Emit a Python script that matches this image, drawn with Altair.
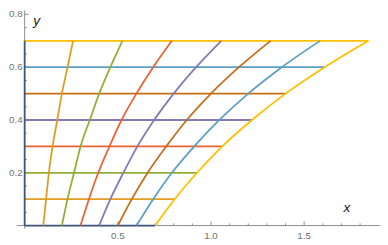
import altair as alt
import pandas as pd

# ---- data ----
y_levels = [0.0, 0.1, 0.2, 0.3, 0.4, 0.5, 0.6, 0.7]
curve_00 = [0.0, 0.0, 0.0, 0.0, 0.0, 0.0, 0.0, 0.0]
curve_01 = [0.10, 0.115, 0.13, 0.15, 0.175, 0.20, 0.23, 0.26]
curve_02 = [0.20, 0.23, 0.265, 0.30, 0.35, 0.40, 0.46, 0.525]
curve_03 = [0.30, 0.345, 0.395, 0.455, 0.52, 0.60, 0.69, 0.79]
curve_04 = [0.40, 0.46, 0.53, 0.605, 0.695, 0.80, 0.92, 1.055]
curve_05 = [0.50, 0.575, 0.66, 0.76, 0.87, 1.00, 1.15, 1.32]
curve_06 = [0.60, 0.69, 0.79, 0.91, 1.045, 1.20, 1.38, 1.585]
curve_07 = [0.70, 0.805, 0.925, 1.06, 1.22, 1.40, 1.61, 1.845]
curves = [curve_00, curve_01, curve_02, curve_03, curve_04, curve_05, curve_06, curve_07]
series_names = ["c0", "c1", "c2", "c3", "c4", "c5", "c6", "c7"]
series_colors = ["#3F5479", "#E19C24", "#8FB032", "#EB6235", "#8778B3",
                 "#C56E1A", "#5D9EC7", "#FFBF00"]

x_tick_labels = [0.5, 1.0, 1.5]
x_minor_ticks = [0.1, 0.2, 0.3, 0.4, 0.6, 0.7, 0.8, 0.9, 1.1, 1.2, 1.3, 1.4,
                 1.6, 1.7, 1.8]
y_tick_labels = [0.2, 0.4, 0.6, 0.8]
y_minor_ticks = [0.05, 0.1, 0.15, 0.25, 0.3, 0.35, 0.45, 0.5, 0.55, 0.65,
                 0.7, 0.75]

# ---- tables ----
curve_rows = []
for name, xs in zip(series_names, curves):
    for i, (xv, yv) in enumerate(zip(xs, y_levels)):
        curve_rows.append({"s": name, "x": xv, "y": yv, "i": i})
curve_df = pd.DataFrame(curve_rows)

hline_df = pd.DataFrame({
    "s": series_names,
    "y": y_levels,
    "x0": [0.0] * len(y_levels),
    "x1": curve_07,
})

W, H = 380, 237
X0PX = 17.0          # pixel of x = 0 inside the svg
XS = 190.35          # pixels per x unit
XD = [-X0PX / XS, (W - X0PX) / XS]
YD = [-0.0642, 0.8149]
xs_ = alt.Scale(domain=XD, nice=False, zero=False)
ys_ = alt.Scale(domain=YD, nice=False, zero=False)
col = alt.Color("s:N", scale=alt.Scale(domain=series_names, range=series_colors), legend=None)

AX = "#8c8c8c"
LBL = "#707070"
FONT = "Liberation Sans"


def ticks_df(vals):
    return pd.DataFrame({"t": vals, "z": [0.0] * len(vals)})


# axes lines
x_axis = alt.Chart(pd.DataFrame({"a": [-8.0 / XS], "b": [XD[1]], "y": [0.0]})).mark_rule(
    color=AX, strokeWidth=1).encode(
    x=alt.X("a:Q", scale=xs_, axis=None), x2="b:Q", y=alt.Y("y:Q", scale=ys_, axis=None))
y_axis = alt.Chart(pd.DataFrame({"a": [-0.012], "b": [YD[1]], "x": [0.0]})).mark_rule(
    color=AX, strokeWidth=1).encode(
    y=alt.Y("a:Q", scale=ys_, axis=None), y2="b:Q", x=alt.X("x:Q", scale=xs_, axis=None))

# ticks
xt_major = alt.Chart(ticks_df(x_tick_labels)).mark_rule(color=AX).encode(
    x=alt.X("t:Q", scale=xs_, axis=None), y=alt.Y("z:Q", scale=ys_, axis=None),
    y2=alt.value(215.5))
xt_minor = alt.Chart(ticks_df(x_minor_ticks)).mark_rule(color=AX).encode(
    x=alt.X("t:Q", scale=xs_, axis=None), y=alt.Y("z:Q", scale=ys_, axis=None),
    y2=alt.value(217.5))
yt_major = alt.Chart(ticks_df(y_tick_labels)).mark_rule(color=AX).encode(
    y=alt.Y("t:Q", scale=ys_, axis=None), x=alt.X("z:Q", scale=xs_, axis=None),
    x2=alt.value(X0PX + 4))
yt_minor = alt.Chart(ticks_df(y_minor_ticks)).mark_rule(color=AX).encode(
    y=alt.Y("t:Q", scale=ys_, axis=None), x=alt.X("z:Q", scale=xs_, axis=None),
    x2=alt.value(X0PX + 2.5))

# tick labels
x_lbl = alt.Chart(ticks_df(x_tick_labels)).mark_text(
    font=FONT, fontSize=10, color=LBL, align="center", baseline="middle").encode(
    x=alt.X("t:Q", scale=xs_, axis=None), y=alt.value(230),
    text=alt.Text("t:Q", format=".1f"))
y_lbl = alt.Chart(ticks_df(y_tick_labels)).mark_text(
    font=FONT, fontSize=10, color=LBL, align="right", baseline="middle").encode(
    y=alt.Y("t:Q", scale=ys_, axis=None), x=alt.value(X0PX - 2),
    text=alt.Text("t:Q", format=".1f"))

# axis titles
ax_titles = alt.Chart(pd.DataFrame({"x": [1.73, 0.065], "y": [0.066, 0.774],
                                    "l": ["x", "y"]})).mark_text(
    font=FONT, fontSize=14, fontStyle="italic", color="#1a1a1a",
    align="center", baseline="middle").encode(
    x=alt.X("x:Q", scale=xs_, axis=None), y=alt.Y("y:Q", scale=ys_, axis=None), text="l:N")

# grid lines
hlines = alt.Chart(hline_df).mark_rule(strokeWidth=1.8).encode(
    x=alt.X("x0:Q", scale=xs_, axis=None), x2="x1:Q",
    y=alt.Y("y:Q", scale=ys_, axis=None), color=col)
clines = alt.Chart(curve_df).mark_line(strokeWidth=1.8, interpolate="monotone").encode(
    x=alt.X("x:Q", scale=xs_, axis=None), y=alt.Y("y:Q", scale=ys_, axis=None),
    color=col, order="i:Q", detail="s:N")

chart = alt.layer(
    x_axis, y_axis, xt_major, xt_minor, yt_major, yt_minor,
    hlines, clines, x_lbl, y_lbl, ax_titles
).properties(
    width=W, height=H,
    autosize=alt.AutoSizeParams(type="none"),
    padding=0,
).configure_view(stroke=None)

chart.save("out.html", embed_options={"renderer": "svg", "actions": False})
